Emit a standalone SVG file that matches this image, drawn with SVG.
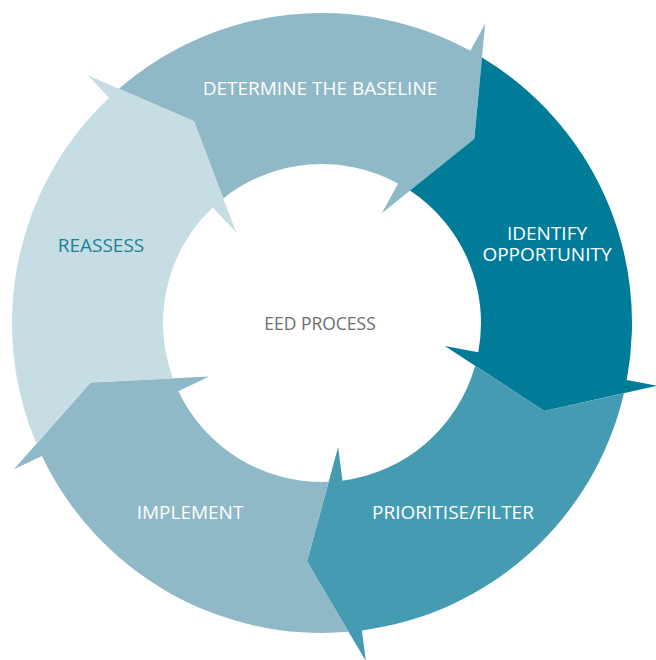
<svg xmlns="http://www.w3.org/2000/svg" xmlns:xlink="http://www.w3.org/1999/xlink" width="656" height="660" viewBox="0 0 656 660">
  <defs>
    <!-- One ring segment: chevron head with its base on the 0° ray, tail notched to fit the previous head (72° back) -->
    <path id="seg" d="M108.46,-290.41 A310,310 0 0 1 310,0 L341,0 L234.6,45.6 L125,0 L159,0 A159,159 0 0 0 62.15,-146.35 L115.87,-209.03 Z"/>
  </defs>
  <style>
    .lbl { font-family: "Open Sans", "Liberation Sans", sans-serif; font-size: 19px; text-anchor: middle; fill: #ffffff; }
    .s1 { fill: #8fb9c7; }
    .s2 { fill: #007c99; }
    .s3 { fill: #459bb2; }
    .s4 { fill: #8fb9c7; }
    .s5 { fill: #c7dde4; }
  </style>
  <rect width="656" height="660" fill="#ffffff"/>

  <g id="connectors"/>

  <g id="determine-baseline">
    <use xlink:href="#seg" href="#seg" class="s1" transform="translate(322,323) rotate(-61.4)"/>
    <text class="lbl" x="320" y="95">DETERMINE THE BASELINE</text>
  </g>

  <g id="identify-opportunity">
    <use xlink:href="#seg" href="#seg" class="s2" transform="translate(322,323) rotate(10.6)"/>
    <text class="lbl" x="547" y="239.5"><tspan x="547">IDENTIFY</tspan><tspan x="547" dy="21">OPPORTUNITY</tspan></text>
  </g>

  <g id="prioritise-filter">
    <use xlink:href="#seg" href="#seg" class="s3" transform="translate(322,323) rotate(82.6)"/>
    <text class="lbl" x="453" y="519">PRIORITISE/FILTER</text>
  </g>

  <g id="implement">
    <use xlink:href="#seg" href="#seg" class="s4" transform="translate(322,323) rotate(154.6)"/>
    <text class="lbl" x="190" y="519">IMPLEMENT</text>
  </g>

  <g id="reassess">
    <use xlink:href="#seg" href="#seg" class="s5" transform="translate(322,323) rotate(226.6)"/>
    <text class="lbl" x="101" y="252" style="fill:#1a8098">REASSESS</text>
  </g>

  <g id="eed-process">
    <text class="lbl" x="320" y="330" style="fill:#6d6e70; font-size:17.5px">EED PROCESS</text>
  </g>
</svg>
